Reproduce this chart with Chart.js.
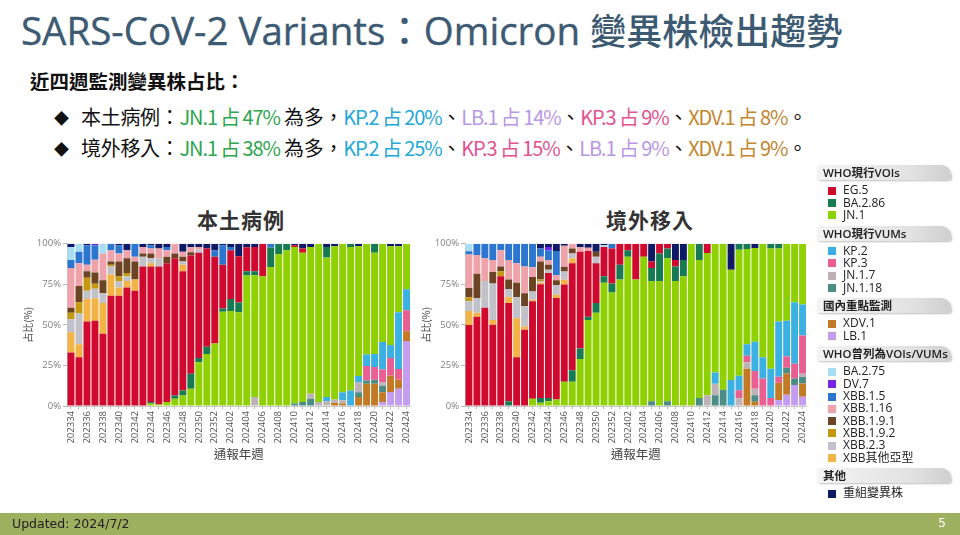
<!DOCTYPE html>
<html>
<head>
<meta charset="utf-8">
<script src="https://cdn.jsdelivr.net/npm/chart.js@4.4.1/dist/chart.umd.min.js"></script>
<style>
  body { margin: 0; background: #fff; }
  #page { position: relative; width: 960px; height: 535px; overflow: hidden; background: #fff;
          font-family: "Noto Sans CJK TC", "Noto Sans", sans-serif; }
  #title { position: absolute; left: 21px; top: 0px; color: #3d5a73; white-space: nowrap;
           font-family: "Open Sans", "Noto Sans CJK TC", sans-serif; }
  #title .lat { font-size: 38.5px; font-weight: 400; -webkit-text-stroke: 0.4px #3d5a73; }
  #title .cjk { font-size: 36px; font-weight: 500; font-family: "Noto Sans CJK TC", sans-serif; }
  #sub { position: absolute; left: 30px; top: 66px; font-size: 19.5px; font-weight: bold; color: #111; white-space: nowrap; }
  .bullet { position: absolute; left: 54px; font-size: 20px; color: #111; white-space: nowrap; letter-spacing: -0.3px; }
  .bullet .dia { display: inline-block; width: 27px; font-size: 15px; vertical-align: 1px; }
  .bullet span.v { letter-spacing: -1.1px; }
  .g { color: #2ea650; } .c { color: #24a7d9; } .l { color: #b898e6; } .p { color: #e2538f; } .o { color: #c3862f; }
  .ctitle { position: absolute; top: 204px; font-size: 21px; font-weight: bold; color: #333; width: 200px; text-align: center; letter-spacing: 1px; }
  canvas { position: absolute; }
  #legend { position: absolute; left: 0; top: 0; width: 960px; height: 535px; pointer-events: none;
            font-family: "Open Sans", "Noto Sans CJK TC", sans-serif; }
  .lhead { position: absolute; left: 817px; width: 128px; height: 15px; border-radius: 3px 10px 3px 3px;
           background: linear-gradient(90deg, #f4f4f4, #e2e2e2 70%, #cfcfcf);
           box-shadow: 1px 1px 2px rgba(0,0,0,0.25); font-size: 11.5px; font-weight: 600; color: #222;
           line-height: 15px; padding-left: 6px; white-space: nowrap; }
  .litem { position: absolute; left: 828px; font-size: 12px; color: #222; line-height: 12px; white-space: nowrap; }
  .litem i { display: inline-block; width: 8px; height: 8px; margin-right: 7px; vertical-align: -0.5px; }
  #footer { position: absolute; left: 0; top: 513px; width: 960px; height: 22px; background: #9cb060; }
  #footer .upd { position: absolute; left: 12px; top: 3px; font-size: 12.5px; color: #222; font-family: "DejaVu Sans", sans-serif; }
  #footer .pg { position: absolute; right: 14px; top: 3px; font-size: 12px; color: #fff; font-family: "DejaVu Sans", sans-serif; }
</style>
</head>
<body>
<div id="page">
  <div id="title"><span class="lat">SARS-CoV-2 Variants：Omicron </span><span class="cjk">變異株檢出趨勢</span></div>
  <div id="sub">近四週監測變異株占比：</div>
  <div class="bullet" style="top:102px"><span class="dia">◆</span>本土病例：<span class="v g">JN.1 占 47%</span> 為多，<span class="v c">KP.2 占 20%</span>、<span class="v l">LB.1 占 14%</span>、<span class="v p">KP.3 占 9%</span>、<span class="v o">XDV.1 占 8%</span>。</div>
  <div class="bullet" style="top:133px"><span class="dia">◆</span>境外移入：<span class="v g">JN.1 占 38%</span> 為多，<span class="v c">KP.2 占 25%</span>、<span class="v p">KP.3 占 15%</span>、<span class="v l">LB.1 占 9%</span>、<span class="v o">XDV.1 占 9%</span>。</div>
  <div class="ctitle" style="left:141px">本土病例</div>
  <div class="ctitle" style="left:550px">境外移入</div>
  <canvas id="localChart" width="402" height="230" style="left:18px; top:236px"></canvas>
  <canvas id="importChart" width="400" height="230" style="left:416px; top:236px"></canvas>
  <div id="legend"></div>
  <div id="footer"><span class="upd">Updated: 2024/7/2</span><span class="pg">5</span></div>
</div>
<script>
  /* --- report weeks (x categories) --- */
  var weeks = ['202334','202335','202336','202337','202338','202339','202340','202341','202342','202343',
               '202344','202345','202346','202347','202348','202349','202350','202351','202352','202401',
               '202402','202403','202404','202405','202406','202407','202408','202409','202410','202411',
               '202412','202413','202414','202415','202416','202417','202418','202419','202420','202421',
               '202422','202423','202424'];

  var yTicks = [0, 25, 50, 75, 100];

  /* --- stack order, bottom to top --- */
  var seriesNames = ['LB.1','XDV.1','JN.1.18','JN.1.7','KP.3','KP.2','JN.1','BA.2.86','EG.5',
                     'XBB其他亞型','XBB.2.3','XBB.1.9.2','XBB.1.9.1','XBB.1.16','XBB.1.5','DV.7','BA.2.75','重組變異株'];

  /* --- 本土病例 (local cases), share per week --- */
  var localLB1   = [0,0,0,0,0,0,0,0,0,0, 0,0,0,0,0,0,0,0,0,0, 0,0,0,0,0,0,0,0,0,0, 0,0,0,0,0,0,0,0,0,2.5, 8.6,10.6,40];
  var localXDV1  = [0,0,0,0,0,0,0,0,0,0, 0,0,0,0,0,0,0,0,0,0, 0,0,0,0,0,0,0,0,0,0, 0,0,0,2,1.5,0,5.5,13.7,13.7,6, 10,5.5,6];
  var localJN118 = [0,0,0,0,0,0,0,0,0,0, 0,0,0,0,0,0,0,0,0,0, 0,0,0,0,0,0,0,0,1.5,2.5, 4.5,0,0,0,0,0,3,2,2.5,4, 0,0,0];
  var localJN17  = [0,0,0,0,0,0,0,0,0,0, 0,0,0,0,0,0,0,0,0,0, 0,0,0,5.5,0,0,0,0,0,0, 3,2.5,3,2,2,0,6,0,0,2, 0,0,0];
  var localKP3   = [0,0,0,0,0,0,0,0,0,0, 0,0,0,0,0,0,0,0,0,0, 0,0,0,0,0,0,0,0,0,0, 0,0,0,0,0,0,0,9,7.8,8, 11,6.7,13];
  var localKP2   = [0,0,0,0,0,0,0,0,0,0, 0,0,0,0,0,0,0,0,0,0, 0,0,0,0,0,0,0,0,0,0, 0,0,2.5,0,5,9.6,4,7,8,17, 8,35,13];
  var localJN1   = [0,0,0,0,0,0,0,0,0,0, 1.5,1,2.5,4.5,6.5,10.6,27,32,38.5,58,
                    58.5,57.7,80.4,75,80,85.7,93.5,96,96.5,92, 90.5,97.5,86,94.5,91.5,88.4,80,68.3,62.5,60.5, 60.9,40.7,28];
  var localBA286 = [0,0,0,0,0,0,0,0,0,0, 1,0,0,2,3,9.2,2.5,4.5,0,2, 7.5,6,2.7,2.5,0,12,6.5,4,0,0, 0,0,6.5,0,0,2,0,0,5.5,0, 0,0,0];
  var localEG5   = [33,30,52,53,44.5,68,68,73,71,86, 83.5,85,85.5,84.5,73.5,73,65,60.5,53.5,27,
                    30,28.6,14.7,15,20,0,0,0,1,2.5, 0,0,0,0,0,0,0,0,0,0, 0,0,0];
  var localXOTH  = [12.5,8,14,14,19,13,5,4,7,0, 2,0,0,0,4,0,0,0,0,0, 0,0,0,0,0,0,0,0,0,0, 0,0,0,0,0,0,0,0,0,0, 0,0,0];
  var localX23   = [8,19,5,6,6,5,4,3,0,6, 3,5,0,0,2,0,2,0,0,0, 0,0,0,0,0,0,0,0,0,0, 0,0,0,0,0,0,0,0,0,0, 0,0,0];
  var localX192  = [4,7,8,3,0,1,3,2,0,0, 0,0,0,0,0,0,0,0,0,0, 0,0,0,0,0,0,0,0,0,0, 0,0,0,0,0,0,0,0,0,0, 0,0,0];
  var localX191  = [3,10,4,7,8,2,9,9,11,2, 3,0,4,3,3,2,0,0,0,0, 0,0,0,0,0,0,0,0,0,0, 0,0,0,0,0,0,0,0,0,0, 0,0,0];
  var localX116  = [24.5,14,4,8,16.5,7,5,5,3,4, 3,6,4,6,3,3,1.5,0,0,0, 0,0,0,0,0,0,0,0,0,0, 0,0,0,0,0,0,0,0,0,0, 0,0,0];
  var localX15   = [5,7,12,9,0,4,5,0,8,0, 2,0,2,0,0,0,0,0,4,12, 2,0,0,0,0,2.3,0,0,0,0, 0,0,0,0,0,0,0,0,0,0, 0,0,0];
  var localDV7   = [0,0,0,1,0,0,0,0,0,0, 0,0,0,0,0,0,0,0,0,0, 0,0,0,0,0,0,0,0,0,0, 0,0,0,0,0,0,0,0,0,0, 0,0,0];
  var localBA275 = [8,5,0,0,6,0,0,0,0,0, 0,0,0,0,0,0,0,0,0,0, 0,0,0,0,0,0,0,0,0,0, 0,0,0,0,0,0,0,0,0,0, 0,0,0];
  var localREC   = [2,0,1,0,0,0,1,4,0,2, 1,3,2,0,5,2.2,2,3,4,1, 2,7.7,2.2,2,0,0,0,0,1,3, 2,0,2,1.5,0,0,1.5,0,0,0, 1.5,1.5,0];

  /* --- 境外移入 (imported cases), share per week --- */
  var impLB1   = [0,0,0,0,0,0,0,0,0,0, 0,0,0,0,0,0,0,0,0,0, 0,0,0,0,0,0,0,0,0,0, 0,0,0,0,0,0,0,0,0,3.7, 7,13,5.7];
  var impXDV1  = [0,0,0,0,0,0,0,0,0,0, 0,0,0,0,0,0,0,0,0,0, 0,0,0,0,0,0,0,0,0,0, 0,0,0,0,0,23,2.6,0,0,10.6, 13,0,8.2];
  var impJN118 = [0,0,0,0,0,0,0,0,0,0, 0,0,0,0,0,0,0,0,0,0, 0,0,0,3,0,3,0,0,0,5, 0,6.7,10,0,0,0,4,0,0,0, 3.5,4,4];
  var impJN17  = [0,0,0,0,0,0,0,0,0,0, 0,0,0,0,0,0,0,0,0,0, 0,0,0,0,0,0,0,0,0,0, 6.7,7,0,0,4.7,4,4,0,0,0, 0,0,2];
  var impKP3   = [0,0,0,0,0,0,0,0,0,0, 0,0,0,0,0,0,0,0,0,0, 0,0,0,0,0,0,0,0,0,0, 0,0,0,0,5,4,11,17,5,3.7, 7,9,23.6];
  var impKP2   = [0,0,0,0,0,0,0,0,0,0, 0,0,0,0,0,0,0,0,0,0, 0,0,0,0,0,0,0,0,0,0, 0,7,0,16,9,7,18,13,18,34, 22,38,19];
  var impJN1   = [0,0,0,0,0,0,0,0,4.5,2, 3,4,15,15,29,53,57.5,76,70,78,
                  92,78,92,74,77,88,77,80,100,85, 87.6,79.3,90,68,77.6,58.7,57.8,70,74,45, 47.5,36,37.5];
  var impBA286 = [0,0,0,0,0,3,0,0,0,3, 2,0,0,7,6.5,2,6,4,5.5,9, 4,0,0,8,17,6,9,10,0,10, 0,0,0,0,3.7,3.3,0,0,3,3, 0,0,0];
  var impEG5   = [49.8,55,60.5,50,80,60.5,30,47,60,70, 77,62.5,59.8,66,59.5,40.5,24.5,18,21.5,13,
                  4,22,8,4,6,3,4,0,0,0, 5.7,0,0,0,0,0,0,0,0,0, 0,0,0];
  var impXOTH  = [8.6,2.5,0,3,0,3.5,24,2,1,1, 0,2,3,3,0,0,0,0,0,0, 0,0,0,0,0,0,0,0,0,0, 0,0,0,0,0,0,0,0,0,0, 0,0,0];
  var impX23   = [6,9,16.5,22.5,0,5,13,12.5,5,1, 2,6,5,3,0,0,4,0,0,0, 0,0,0,0,0,0,0,0,0,0, 0,0,0,0,0,0,0,0,0,0, 0,0,0];
  var impX192  = [2.5,0,0,0,3,0,0,0,0,1, 0,0,0,0,0,0,0,0,0,0, 0,0,0,0,0,0,0,0,0,0, 0,0,0,0,0,0,0,0,0,0, 0,0,0];
  var impX191  = [5.7,15,0,7,3,6,9,8,9,11, 3,3,3,3,0,0,3,0,0,0, 0,0,0,0,0,0,0,0,0,0, 0,0,0,0,0,0,0,0,0,0, 0,0,0];
  var impX116  = [20.5,11.5,14,7.5,10,12,12,16.5,6,3, 3,3,13,3,3,2,0,0,0,0, 0,0,0,0,0,0,0,0,0,0, 0,0,0,0,0,0,0,0,0,0, 0,0,0];
  var impX15   = [2,7,9,10,4,10,12,14,14.5,5, 6,15,0,0,0,0,0,0,3,0, 0,0,0,0,0,0,0,0,0,0, 0,0,0,0,0,0,0,0,0,0, 0,0,0];
  var impDV7   = [0,0,0,0,0,0,0,0,0,0, 2,0,0,0,0,0,0,0,0,0, 0,0,0,0,0,0,0,0,0,0, 0,0,0,0,0,0,0,0,0,0, 0,0,0];
  var impBA275 = [4.7,0,0,0,0,0,0,0,0,0, 0,0,0,0,0,0,0,1,0,0, 0,0,0,0,0,0,0,0,0,0, 0,0,0,0,0,0,0,0,0,0, 0,0,0];
  var impREC   = [0,0,0,0,0,0,0,0,0,3, 2,4.5,1.2,0,2,2.5,5,1,0,0, 0,0,0,11,0,0,10,10,0,0, 0,0,0,16,0,0,2.6,0,0,0, 0,0,0];

  var localRows = [localLB1, localXDV1, localJN118, localJN17, localKP3, localKP2, localJN1, localBA286, localEG5,
                   localXOTH, localX23, localX192, localX191, localX116, localX15, localDV7, localBA275, localREC];
  var impRows   = [impLB1, impXDV1, impJN118, impJN17, impKP3, impKP2, impJN1, impBA286, impEG5,
                   impXOTH, impX23, impX192, impX191, impX116, impX15, impDV7, impBA275, impREC];

  /* --- colours --- */
  var COLORS = {
    'EG.5': '#cf0a2e', 'BA.2.86': '#187a52', 'JN.1': '#8fd000',
    'KP.2': '#3bb0e2', 'KP.3': '#ea5f92', 'JN.1.7': '#bdb3b6', 'JN.1.18': '#4b8d84',
    'XDV.1': '#c27a24', 'LB.1': '#c49cf0',
    'BA.2.75': '#a8def2', 'DV.7': '#7a22e6', 'XBB.1.5': '#2c76d0', 'XBB.1.16': '#eea3ab',
    'XBB.1.9.1': '#6b4424', 'XBB.1.9.2': '#c49810', 'XBB.2.3': '#c1c1c9', 'XBB其他亞型': '#f2b446',
    '重組變異株': '#0f1a66'
  };

  var legendGroups = [
    { title: 'WHO現行VOIs', items: ['EG.5', 'BA.2.86', 'JN.1'] },
    { title: 'WHO現行VUMs', items: ['KP.2', 'KP.3', 'JN.1.7', 'JN.1.18'] },
    { title: '國內重點監測', items: ['XDV.1', 'LB.1'] },
    { title: 'WHO曾列為VOIs/VUMs', items: ['BA.2.75', 'DV.7', 'XBB.1.5', 'XBB.1.16', 'XBB.1.9.1', 'XBB.1.9.2', 'XBB.2.3', 'XBB其他亞型'] },
    { title: '其他', items: ['重組變異株'] }
  ];

  /* --- helpers --- */
  function toPercent(rows) {
    var out = rows.map(function () { return []; });
    for (var i = 0; i < weeks.length; i++) {
      var total = 0;
      for (var k = 0; k < rows.length; k++) total += rows[k][i];
      for (var k2 = 0; k2 < rows.length; k2++) out[k2].push(total ? rows[k2][i] / total * 100 : 0);
    }
    return out;
  }

  function makeChart(canvasId, rows) {
    var pct = toPercent(rows);
    var datasets = seriesNames.map(function (name, k) {
      return {
        label: name,
        data: pct[k],
        backgroundColor: COLORS[name],
        borderWidth: 0,
        categoryPercentage: 1.0,
        barPercentage: 0.87
      };
    });

    return new Chart(document.getElementById(canvasId), {
      type: 'bar',
      data: { labels: weeks, datasets: datasets },
      options: {
        responsive: false,
        animation: false,
        layout: { padding: { top: 6, right: 6, left: 0, bottom: 0 } },
        plugins: { legend: { display: false }, tooltip: { enabled: false } },
        scales: {
          x: {
            stacked: true,
            grid: { display: true, drawOnChartArea: false, offset: false, tickLength: 3, color: '#b5b5b5' },
            border: { display: true, color: '#c8c8c8' },
            ticks: {
              autoSkip: false, maxRotation: 90, minRotation: 90, padding: 2,
              font: { family: 'Open Sans', size: 9.5 }, color: '#555',
              callback: function (v, i) { return i % 2 === 0 ? weeks[i] : ''; }
            },
            title: { display: true, text: '通報年週', font: { family: 'Noto Sans CJK TC', size: 12.5 }, color: '#444' },
            afterFit: function (s) { s.height = 60; }
          },
          y: {
            stacked: true, min: 0, max: 100,
            afterBuildTicks: function (s) { s.ticks = yTicks.map(function (v) { return { value: v }; }); },
            grid: { display: true, drawOnChartArea: false, tickLength: 4, color: '#b5b5b5' },
            border: { display: true, color: '#c8c8c8' },
            ticks: {
              padding: 2, font: { family: 'Open Sans', size: 9.5 }, color: '#808080',
              callback: function (v) { return v + '%'; }
            },
            title: { display: true, text: '占比(%)', font: { family: 'Noto Sans CJK TC', size: 10 }, color: '#444' },
            afterFit: function (s) { s.width = 49; }
          }
        }
      }
    });
  }

  makeChart('localChart', localRows);
  makeChart('importChart', impRows);

  /* --- grouped legend --- */
  (function renderLegend() {
    var el = document.getElementById('legend');
    var y = 172.7;
    var html = '';
    legendGroups.forEach(function (g, gi) {
      if (gi > 0) y += 18.3;
      html += '<div class="lhead" style="top:' + (y - 7.5).toFixed(1) + 'px">' + g.title + '</div>';
      y += 17.5;
      g.items.forEach(function (name, ii) {
        if (ii > 0) y += 12.3;
        html += '<div class="litem" style="top:' + (y - 6).toFixed(1) + 'px"><i style="background:' + COLORS[name] + '"></i>' + name + '</div>';
      });
    });
    el.innerHTML = html;
  })();
</script>
</body>
</html>
